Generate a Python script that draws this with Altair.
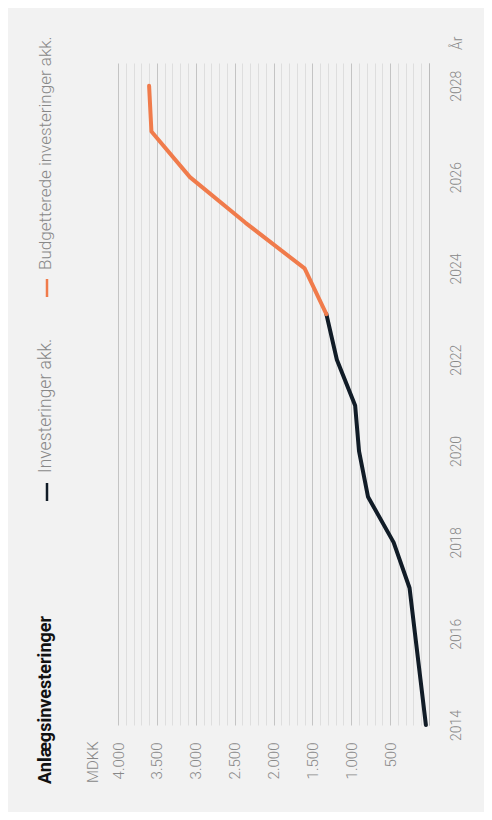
import altair as alt
import pandas as pd

# ---- data ----
years_actual = [2014, 2015, 2016, 2017, 2018, 2019, 2020, 2021, 2022, 2023]
values_actual = [40, 110, 180, 250, 455, 785, 900, 950, 1185, 1320]
years_budget = [2023, 2024, 2025, 2026, 2027, 2028]
values_budget = [1320, 1600, 2360, 3075, 3570, 3600]
series_names = ["Investeringer akk.", "Budgetterede investeringer akk."]
series_colors = ["#111c27", "#f07b4b"]
value_ticks = list(range(0, 4001, 100))
year_ticks = [2014, 2016, 2018, 2020, 2022, 2024, 2026, 2028]
chart_title = "Anlægsinvesteringer"
value_unit = "MDKK"
year_title = "År"

df = pd.concat([
    pd.DataFrame({"year": years_actual, "value": values_actual, "series": series_names[0]}),
    pd.DataFrame({"year": years_budget, "value": values_budget, "series": series_names[1]}),
], ignore_index=True)

FONT = "Roboto"
GRAY = "#888888"

label_expr = ("datum.value > 0 && datum.value % 500 === 0 ? "
              "replace(format(datum.value, ','), ',', '.') : ''")

lines = alt.Chart(df).mark_line(strokeWidth=4, strokeCap="round", strokeJoin="round").encode(
    x=alt.X("value:Q",
            scale=alt.Scale(domain=[0, 4000], reverse=True, nice=False),
            axis=alt.Axis(orient="bottom", values=value_ticks, labelExpr=label_expr,
                          labelAngle=-90, labelAlign="right", labelBaseline="middle",
                          labelPadding=17, ticks=False, domain=False, grid=True,
                          gridColor={"condition": {"test": "datum.value % 500 === 0", "value": "#c4c4c4"},
                                     "value": "#dedede"},
                          gridWidth=1, title=None, labelOverlap=False, labelFontSize=15,
                          labelFontWeight=300, labelColor=GRAY, labelFont=FONT)),
    y=alt.Y("year:Q",
            scale=alt.Scale(domain=[2014, 2028.5], nice=False, zero=False),
            axis=alt.Axis(orient="right", values=year_ticks, format="d", labelAngle=-90,
                          labelAlign="center", labelBaseline="top", labelPadding=20,
                          ticks=False, domain=True, domainColor="#bbbbbb", grid=False,
                          title=None, labelFontSize=14, labelFontWeight=300,
                          labelColor=GRAY, labelFont=FONT)),
    color=alt.Color("series:N", scale=alt.Scale(domain=series_names, range=series_colors), legend=None),
    order="year:Q",
    detail="series:N",
)


def txt(s, x, y, size, color, weight=300):
    return alt.Chart(pd.DataFrame({"t": [s]})).mark_text(
        angle=270, align="left", baseline="alphabetic", font=FONT, fontSize=size,
        fontWeight=weight, color=color
    ).encode(text="t:N", x=alt.value(x), y=alt.value(y))


def dash(color, y1, y2, x):
    return alt.Chart(pd.DataFrame({"d": [0]})).mark_rule(strokeWidth=2.5, color=color).encode(
        x=alt.value(x), y=alt.value(y1), y2=alt.value(y2))


layers = [
    lines,
    txt(chart_title, -67, 721, 18, "#111111", "bold"),
    dash(series_colors[0], 420, 438, -71),
    txt(series_names[0], -67, 410, 17.5, GRAY),
    dash(series_colors[1], 216, 234, -71),
    txt(series_names[1], -67, 207, 17, GRAY),
    txt(value_unit, -20, 720, 15, GRAY),
    txt(year_title, 343.5, -13, 14, GRAY),
]

chart = alt.layer(*layers).properties(
    width=311, height=662,
    background="#f2f2f2",
    padding={"left": 110, "top": 55, "right": 55, "bottom": 87},
    autosize=alt.AutoSizeParams(type="none"),
).configure_view(stroke=None)

chart.save("out.html", embed_options={"renderer": "svg", "actions": False})
